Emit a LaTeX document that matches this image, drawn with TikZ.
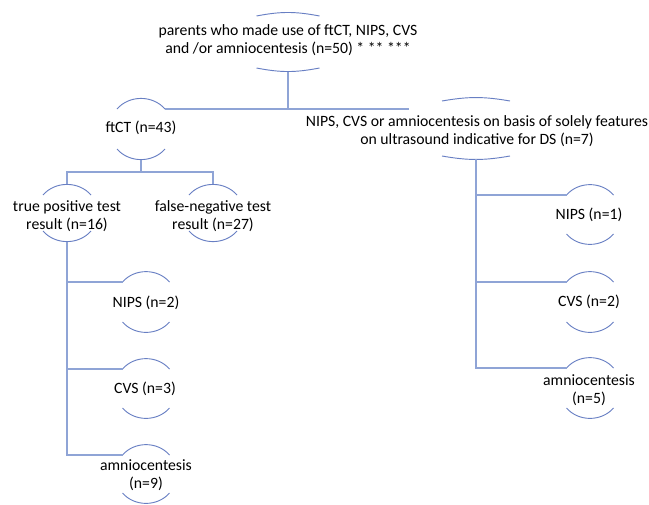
\documentclass[tikz,border=0pt]{standalone}
\usepackage{fontspec}
\setmainfont{Carlito}
\usepackage{xcolor}
\definecolor{lnblue}{RGB}{143,164,214}
\definecolor{capblue}{RGB}{104,127,195}
\usetikzlibrary{positioning,calc}
\newcommand{\diagfont}{\fontsize{11.8}{13.2}\selectfont}
% caps above and below a label: name, x, upper y, lower y, half width, bend
\newcommand{\caps}[6]{%
  \coordinate (#1-ul) at ({#2-#5},#3);
  \coordinate (#1-ur) at ({#2+#5},#3);
  \coordinate (#1-ll) at ({#2-#5},#4);
  \coordinate (#1-lr) at ({#2+#5},#4);
  \coordinate (#1-t) at ({#2},{#3-0.587*#5*sin(#6)});
  \coordinate (#1-b) at ({#2},{#4+0.587*#5*sin(#6)});
  \draw[capline] (#1-ul) to[bend left=#6] (#1-ur);
  \draw[capline] (#1-ll) to[bend right=#6] (#1-lr);
}
\tikzset{
  lbl/.style={align=center, inner sep=0pt, font=\diagfont},
  conn/.style={draw=lnblue, line width=1.1pt},
  capline/.style={draw=capblue, line width=0.7pt}
}

\begin{document}
\begin{tikzpicture}[x=0.75pt, y=-0.75pt]
  \useasboundingbox (0,0) rectangle (649,504);
  \node[lbl] (top) at (288,40) {parents who made use of ftCT, NIPS, CVS\\and /or amniocentesis (n=50) * ** ***};
  \node[lbl] (ftct) at (141,128) {ftCT (n=43)};
  \node[lbl] (rt) at (477,131) {NIPS, CVS or amniocentesis on basis of solely features\\on ultrasound indicative for DS (n=7)};
  \node[lbl] (tp) at (67,216) {true positive test\\result (n=16)};
  \node[lbl] (fn) at (213,216) {false-negative test\\result (n=27)};
  \node[lbl] (ln) at (146,303) {NIPS (n=2)};
  \node[lbl] (lc) at (145,389) {CVS (n=3)};
  \node[lbl] (la) at (146,475) {amniocentesis\\(n=9)};
  \node[lbl] (rn) at (589,215) {NIPS (n=1)};
  \node[lbl] (rc) at (589,302) {CVS (n=2)};
  \node[lbl] (ra) at (589,390) {amniocentesis\\(n=5)};

  \caps{top}{288}{16}{68}{31.5}{11}
  \caps{ftct}{141}{109}{149}{24}{49}
  \caps{rt}{476}{101}{156}{34}{10}
  \caps{tp}{67}{195}{231}{24}{49}
  \caps{fn}{213}{195}{231}{24}{49}
  \caps{ln}{146}{282}{322}{23.5}{49}
  \caps{lc}{146}{369}{408}{23.5}{49}
  \caps{la}{146}{455}{493}{23.5}{49}
  \caps{rn}{590}{195}{234}{23.5}{49}
  \caps{rc}{590}{282}{322}{23.5}{49}
  \caps{ra}{590}{368}{408}{23.5}{49}

  \coordinate (rtend) at (409,109);
  \coordinate (split) at (141,172);
  \draw[conn] (ftct-ur) -- (rtend);
  \draw[conn] (top-b) -- (top-b |- rtend);
  \draw[conn] (ftct-b) -- (split);
  \draw[conn] (tp-t) |- (split) -| (fn-t);
  \draw[conn] (tp-b) |- (ln-ul);
  \draw[conn] (tp-b) |- (lc-ul);
  \draw[conn] (tp-b) |- (la-ul);
  \draw[conn] (rt-b) |- (rn-ul);
  \draw[conn] (rt-b) |- (rc-ul);
  \draw[conn] (rt-b) |- (ra-ul);
\end{tikzpicture}
\end{document}
